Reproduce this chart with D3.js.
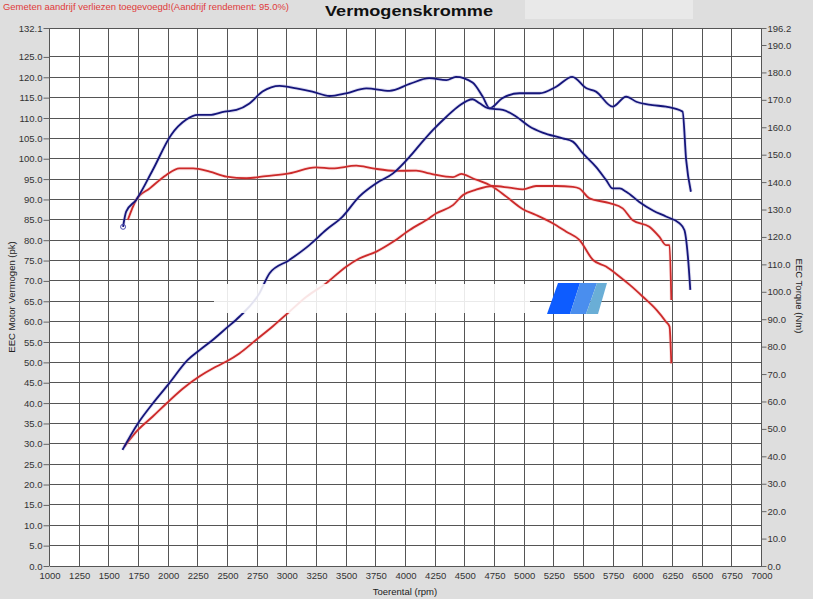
<!DOCTYPE html>
<html>
<head>
<meta charset="utf-8">
<script src="https://d3js.org/d3.v7.min.js"></script>
<style>
  body { margin: 0; background: #dedede; }
  svg { display: block; font-family: "Liberation Sans", Arial, sans-serif; }
</style>
</head>
<body>
<script>
var blueTorqueRpm = [1620,1646,1730,1870,2025,2150,2250,2350,2475,2575,2685,2795,2940,3080,3215,3360,3500,3670,3865,4035,4200,4345,4425,4565,4650,4710,4815,4960,5130,5270,5405,5525,5605,5745,5860,5945,6080,6195,6335,6365,6405];
var blueTorqueNm = [123.7,129.2,133.5,144.4,157.2,162.7,164.5,164.5,165.7,166.3,168.7,173.0,175.1,174.2,173.0,171.4,172.4,174.2,173.3,175.8,177.9,177.2,178.4,176.3,171.2,166.9,170.6,172.4,172.4,174.8,178.4,174.2,173.0,167.5,171.2,169.3,168.1,167.5,165.7,148.1,136.5];

var bluePowerRpm = [1615,1745,1870,2010,2165,2265,2375,2490,2600,2770,2855,3020,3190,3330,3470,3610,3755,3895,4035,4120,4230,4345,4455,4565,4625,4695,4820,4935,5045,5155,5325,5410,5495,5605,5690,5745,5805,5860,5970,6085,6195,6310,6350,6380,6400];
var bluePowerPk = [28.5,35.0,39.9,44.9,50.6,53.0,55.5,58.4,61.2,67.0,71.9,75.1,78.8,82.5,85.8,90.7,94.0,96.4,100.5,103.4,107.0,110.3,113.1,114.6,113.6,112.4,112.0,110.3,107.9,106.4,105.0,104.2,101.3,98.0,94.8,92.7,92.7,91.9,89.4,87.3,85.8,84.1,82.5,75.9,67.8];

var redTorqueRpm = [1660,1730,1845,1985,2095,2210,2350,2490,2660,2825,3020,3245,3385,3585,3725,3920,4090,4200,4260,4400,4470,4565,4735,4850,4990,5100,5240,5355,5465,5580,5690,5805,5890,6000,6115,6195,6225,6240];
var redTorqueNm = [126.2,133.5,137.7,142.6,145.0,145.0,143.8,142.0,141.4,142.2,143.2,145.4,145.0,146.0,145.0,144.1,144.2,143.2,142.6,141.8,143.0,141.4,138.3,134.7,130.1,128.0,125.0,121.9,118.9,111.6,109.2,105.5,102.5,98.2,93.4,89.1,87.3,73.9];

var redPowerRpm = [1630,1745,1870,1985,2125,2265,2375,2490,2600,2740,2880,3020,3165,3330,3500,3610,3755,3895,4035,4200,4260,4400,4485,4595,4735,4875,4990,5100,5270,5410,5465,5550,5720,5830,5915,6055,6140,6195,6225,6240];
var redPowerPk = [29.3,33.4,36.7,39.9,43.6,46.6,48.5,50.2,52.2,55.5,58.8,62.4,66.1,69.4,73.5,75.5,77.2,79.6,82.5,85.4,86.6,88.6,91.1,92.4,93.3,92.9,92.5,93.3,93.3,93.1,92.7,90.3,89.1,87.8,84.9,83.3,80.8,78.8,78.8,65.3];

var rpmTicks = [1000,1250,1500,1750,2000,2250,2500,2750,3000,3250,3500,3750,4000,4250,4500,4750,5000,5250,5500,5750,6000,6250,6500,6750,7000];
var pkTicks = [0,5,10,15,20,25,30,35,40,45,50,55,60,65,70,75,80,85,90,95,100,105,110,115,120,125,132.1];
var nmTicks = [0,10,20,30,40,50,60,70,80,90,100,110,120,130,140,150,160,170,180,190,196.2];

var w = 813, h = 599;
var plotL = 49.5, plotR = 761.5, plotT = 28, plotB = 566;

var svg = d3.select("body").append("svg")
    .attr("width", w)
    .attr("height", h);

svg.append("rect").attr("width", w).attr("height", h).attr("fill", "#dedede");
// lichter vlak naast de titel
svg.append("rect").attr("x", 525).attr("y", 0).attr("width", 168).attr("height", 19).attr("fill", "#e9e9e9");

var x = d3.scaleLinear().domain([1000, 7000]).range([plotL, plotR]);
var yL = d3.scaleLinear().domain([0, 132.1]).range([plotB, plotT]);
var yR = d3.scaleLinear().domain([0, 196.2]).range([plotB, plotT]);

// plot area
svg.append("rect")
    .attr("x", plotL).attr("y", plotT)
    .attr("width", plotR - plotL).attr("height", plotB - plotT)
    .attr("fill", "#ffffff");

// grid
var grid = svg.append("g").attr("stroke", "#555").attr("stroke-width", 1).attr("shape-rendering", "crispEdges");
grid.selectAll("line.v").data(rpmTicks).enter().append("line")
    .attr("x1", function(d) { return x(d); }).attr("x2", function(d) { return x(d); })
    .attr("y1", plotT).attr("y2", plotB);
grid.selectAll("line.h").data(pkTicks).enter().append("line")
    .attr("x1", plotL).attr("x2", plotR)
    .attr("y1", function(d) { return yL(d); }).attr("y2", function(d) { return yL(d); });

// curves
function series(rpm, vals) {
    return rpm.map(function(r, i) { return [r, vals[i]]; });
}
function drawLine(data, yScale, color, halo) {
    var line = d3.line()
        .x(function(d) { return x(d[0]); })
        .y(function(d) { return yScale(d[1]); })
        .curve(d3.curveMonotoneX);
    svg.append("path").datum(data)
        .attr("fill", "none").attr("stroke", halo).attr("stroke-width", 3.5).attr("opacity", 0.3)
        .attr("stroke-linejoin", "round")
        .attr("d", line);
    svg.append("path").datum(data)
        .attr("fill", "none").attr("stroke", color).attr("stroke-width", 1.8)
        .attr("stroke-linejoin", "round")
        .attr("d", line);
}
drawLine(series(redTorqueRpm, redTorqueNm), yR, "#cc2a2a", "#f29a9a");
drawLine(series(redPowerRpm, redPowerPk), yL, "#cc2a2a", "#f29a9a");
drawLine(series(blueTorqueRpm, blueTorqueNm), yR, "#15157a", "#8c8cd0");
drawLine(series(bluePowerRpm, bluePowerPk), yL, "#15157a", "#8c8cd0");

svg.append("circle")
    .attr("cx", x(blueTorqueRpm[0])).attr("cy", yR(blueTorqueNm[0])).attr("r", 2.5)
    .attr("fill", "none").attr("stroke", "#4a4ab0").attr("stroke-width", 1);

// watermark band + logo
svg.append("rect").attr("x", 214).attr("y", 284).attr("width", 316).attr("height", 29)
    .attr("fill", "#ffffff").attr("opacity", 0.88);
var logo = [
    {pts: [[558,283],[580,283],[570,314],[547,314]], c: "#0d5cff"},
    {pts: [[580,283],[597,283],[586,314],[570,314]], c: "#4a8eee"},
    {pts: [[597,283],[607,283],[598,314],[586,314]], c: "#6aaed6"}
];
svg.selectAll("polygon.logo").data(logo).enter().append("polygon")
    .attr("points", function(d) { return d.pts.join(" "); })
    .attr("fill", function(d) { return d.c; });

// axes
var axL = svg.append("g").attr("transform", "translate(" + plotL + ",0)")
    .call(d3.axisLeft(yL).tickValues(pkTicks).tickSize(6).tickPadding(1).tickFormat(d3.format(".1f")));
var axR = svg.append("g").attr("transform", "translate(" + plotR + ",0)")
    .call(d3.axisRight(yR).tickValues(nmTicks).tickSize(5).tickPadding(1).tickFormat(d3.format(".1f")));
var axB = svg.append("g").attr("transform", "translate(0," + plotB + ")")
    .call(d3.axisBottom(x).tickValues(rpmTicks).tickSize(0).tickPadding(6).tickFormat(d3.format("d")));
[axL, axR, axB].forEach(function(a) {
    a.select(".domain").remove();
    a.selectAll("text").attr("font-size", "9.5px").attr("fill", "#333").attr("font-family", "Liberation Sans, Arial, sans-serif");
    a.selectAll("line").attr("stroke", "#666");
});

// texts
svg.append("text").attr("x", 3).attr("y", 10)
    .attr("font-size", "9px").attr("fill", "#e03a3a")
    .attr("textLength", 286).attr("lengthAdjust", "spacingAndGlyphs")
    .text("Gemeten aandrijf verliezen toegevoegd!(Aandrijf rendement: 95.0%)");
svg.append("text").attr("x", 325).attr("y", 16)
    .attr("font-size", "15px").attr("font-weight", "bold").attr("fill", "#111")
    .attr("textLength", 168).attr("lengthAdjust", "spacingAndGlyphs")
    .text("Vermogenskromme");
svg.append("text").attr("x", 405).attr("y", 595)
    .attr("text-anchor", "middle").attr("font-size", "9.5px").attr("fill", "#222")
    .text("Toerental (rpm)");
svg.append("text")
    .attr("transform", "translate(15,297) rotate(-90)")
    .attr("text-anchor", "middle").attr("font-size", "9.5px").attr("fill", "#222")
    .text("EEC Motor Vermogen (pk)");
svg.append("text")
    .attr("transform", "translate(796,296) rotate(90)")
    .attr("text-anchor", "middle").attr("font-size", "9.5px").attr("fill", "#222")
    .text("EEC Torque (Nm)");
</script>
</body>
</html>
